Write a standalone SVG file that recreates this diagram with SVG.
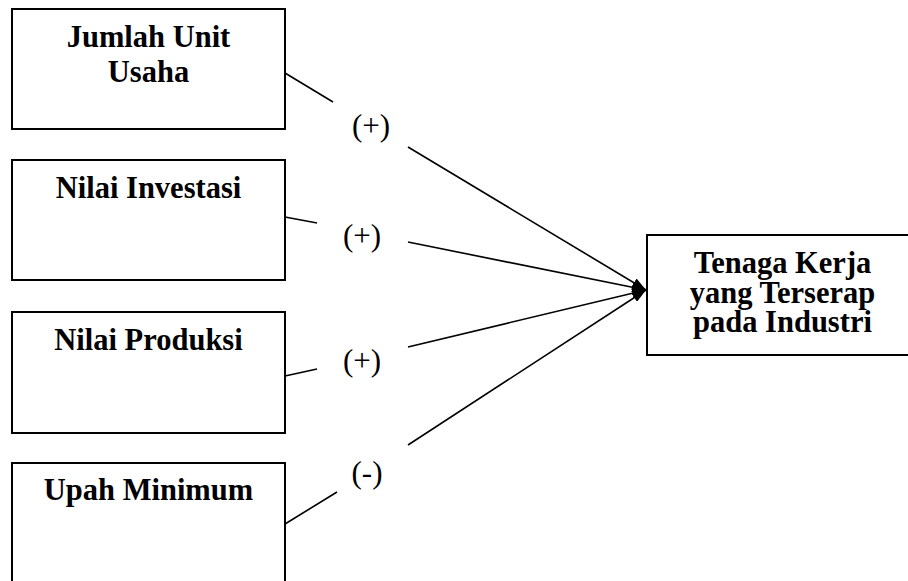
<svg xmlns="http://www.w3.org/2000/svg" width="908" height="581" viewBox="0 0 908 581">
<style>
.box{fill:#fff;stroke:#000;stroke-width:2}
.t{font-family:"Liberation Serif","Times New Roman",serif;font-size:30.5px;font-weight:bold;text-anchor:middle;fill:#000}
.lab{font-family:"Liberation Serif","Times New Roman",serif;font-size:31px;text-anchor:middle;fill:#000}
.ln{stroke:#000;stroke-width:1.6;fill:none}
</style>
<defs>
<marker id="ah" markerUnits="userSpaceOnUse" markerWidth="14" markerHeight="10" refX="14" refY="5" orient="auto">
<path d="M0,0 L14,5 L0,10 z" fill="#000"/>
</marker>
</defs>
<g id="n1"><rect class="box" x="12" y="9" width="273" height="120"/><text class="t" x="148.5" y="47">Jumlah Unit</text><text class="t" x="148.5" y="82">Usaha</text></g>
<g id="n2"><rect class="box" x="12" y="160" width="273" height="120"/><text class="t" x="148.5" y="198">Nilai Investasi</text></g>
<g id="n3"><rect class="box" x="12" y="312" width="273" height="121"/><text class="t" x="148.5" y="350">Nilai Produksi</text></g>
<g id="n4"><rect class="box" x="12" y="463" width="273" height="130"/><text class="t" x="148.5" y="500">Upah Minimum</text></g>
<g id="n5"><rect class="box" x="647" y="235" width="272" height="120"/><text class="t" x="782.5" y="273">Tenaga Kerja</text><text class="t" x="782.5" y="303">yang Terserap</text><text class="t" x="782.5" y="332">pada Industri</text></g>
<g id="connectors">
<line class="ln" x1="285" y1="73" x2="333" y2="102"/>
<line class="ln" x1="408" y1="147" x2="646" y2="290" marker-end="url(#ah)"/>
<line class="ln" x1="285" y1="217" x2="317" y2="223"/>
<line class="ln" x1="408" y1="242" x2="646" y2="290" marker-end="url(#ah)"/>
<line class="ln" x1="285" y1="376" x2="317" y2="369"/>
<line class="ln" x1="408" y1="347" x2="646" y2="290" marker-end="url(#ah)"/>
<line class="ln" x1="285" y1="524" x2="337" y2="492"/>
<line class="ln" x1="408" y1="445" x2="646" y2="290" marker-end="url(#ah)"/>
<text class="lab" x="371" y="136">(+)</text>
<text class="lab" x="362" y="246">(+)</text>
<text class="lab" x="362" y="371">(+)</text>
<text class="lab" x="367" y="483">(-)</text>
</g>
</svg>
